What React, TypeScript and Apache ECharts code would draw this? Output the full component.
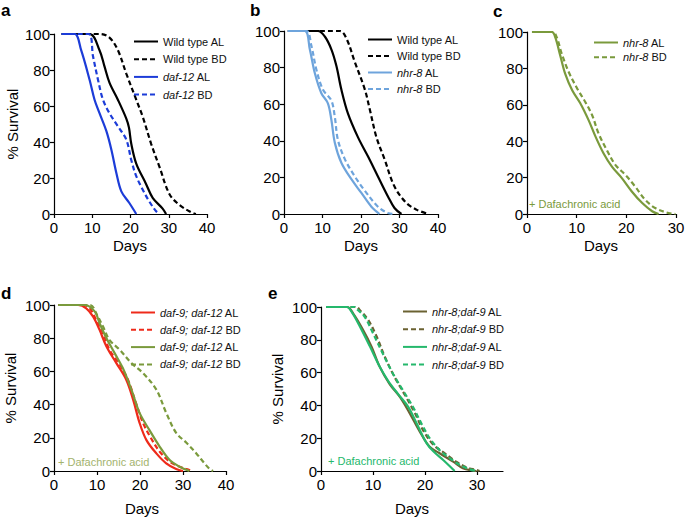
import React, { useEffect, useRef } from 'react';
import * as echarts from 'echarts';

const FONT = '"Liberation Sans", Arial, Helvetica, sans-serif';

type Pt = [number, number];

// ---------- Panel a ----------
const aWildTypeAL: Pt[] = [[2, 100], [9.3, 100], [11.9, 91], [13.2, 82], [14.5, 73], [16.7, 63.5], [18.9, 53], [19.6, 48], [20.2, 39], [21.5, 28], [24, 17], [25.8, 9], [28.4, 3], [29.3, 0]];
const aWildTypeBD: Pt[] = [[2, 100], [12, 100], [14.5, 98], [16.7, 91], [18.9, 78], [21.5, 63.5], [23.2, 54], [25.4, 39], [27.6, 26], [30.2, 11], [32.8, 5], [35.8, 1], [37.1, 0]];
const aDaf12AL: Pt[] = [[2, 100], [5.4, 100], [7.1, 91], [9.3, 74.6], [10.6, 63.5], [11.9, 56], [13.7, 46], [15, 35.7], [16.3, 22.8], [17.6, 12.6], [19.7, 6.1], [21.5, 0]];
const aDaf12BD: Pt[] = [[2, 100], [9, 100], [10.2, 87.6], [11.5, 74.6], [12.8, 63.5], [14.5, 56], [16.7, 48.7], [18.9, 41.3], [20.2, 30], [21.5, 21], [23.2, 13.5], [24.9, 7], [26.7, 1.5], [27.6, 0]];

// ---------- Panel b ----------
const bWildTypeAL: Pt[] = [[1, 100], [8.8, 100], [10.6, 97], [12.3, 90], [13.6, 81], [14.9, 68], [16.6, 55], [19.2, 42], [21.8, 31.5], [24.4, 20.5], [27, 9.6], [28.7, 3.3], [30.5, 0]];
const bWildTypeBD: Pt[] = [[1, 100], [14.5, 100], [16.2, 96], [18.4, 83], [21, 68], [22.3, 57], [24, 42], [26.1, 30], [28.7, 15], [31.8, 6], [34.4, 2.4], [37.4, 0]];
const bNhr8AL: Pt[] = [[1, 100], [5.4, 100], [6.7, 90], [8, 77], [9.7, 66], [11.4, 60.5], [12.3, 51.5], [13.2, 39], [14.9, 28], [17.5, 19], [20.1, 11.5], [22.7, 4], [24.8, 0]];
const bNhr8BD: Pt[] = [[1, 100], [5.8, 100], [7.1, 92], [8.4, 79], [10.1, 68], [12.3, 62], [13.2, 53], [14, 40.5], [15.8, 30], [18.4, 20.5], [20.9, 13], [24.4, 4], [27, 0.5], [28.7, 0]];

// ---------- Panel c ----------
const cNhr8AL: Pt[] = [[1, 100], [5, 100], [5.7, 97], [6.7, 87], [7.7, 77], [9.1, 68], [10.7, 61], [12.4, 51.6], [13.8, 42.5], [15.4, 33.4], [17.1, 26], [19.1, 19.7], [21.1, 12.4], [23.2, 6], [25.2, 1.5], [26.5, 0]];
const cNhr8BD: Pt[] = [[1, 100], [5.2, 100], [6, 97], [7, 88], [8.4, 78], [10.1, 69], [11.7, 61.7], [13.1, 54.4], [14.4, 44.3], [16.1, 35], [17.8, 27], [19.8, 21.5], [21.8, 15], [23.8, 7.8], [25.8, 3.3], [28.5, 0.5], [29.9, 0]];

// ---------- Panel d ----------
const dRedAL: Pt[] = [[1, 100], [5.6, 100], [7.5, 98], [9.1, 93], [10.6, 85], [12.2, 75], [14.5, 65], [16.8, 55], [18.4, 43], [19.9, 29], [21.5, 18.6], [23.8, 10.6], [26.1, 4.6], [28.4, 1.2], [30, 0]];
const dRedBD: Pt[] = [[1, 100], [6.5, 100], [8.3, 98], [9.8, 91], [11.4, 83], [12.9, 73], [15.3, 64], [17.2, 55], [18.8, 43], [20.7, 29], [22.6, 19.6], [24.6, 11.6], [26.9, 5.6], [29.2, 2.6], [31.5, 0.6], [32.3, 0]];
const dGreenAL: Pt[] = [[1, 100], [7.1, 100], [9.5, 96], [10.6, 89], [12.2, 80], [14.1, 71], [16, 62], [18, 49], [19.9, 35], [22.2, 24.6], [24.6, 14.6], [26.9, 6.6], [29.2, 2.6], [31.5, 0]];
const dGreenBD: Pt[] = [[1, 100], [8.3, 100], [10.2, 93], [11.4, 87], [12.9, 79], [15.3, 73], [18, 65], [20.7, 59], [23.8, 49], [26.1, 35], [28.4, 23], [30.8, 17], [33.1, 10.6], [35, 4.6], [36.2, 1.2], [37, 0]];

// ---------- Panel e ----------
const eOliveAL: Pt[] = [[1, 100], [5, 100], [6.2, 96], [8.1, 86], [9.7, 76], [11.3, 63.5], [13.2, 53], [15.2, 45], [17.1, 35], [19, 24], [20.9, 14.8], [22.8, 10.8], [25.4, 5.7], [27.3, 1.6], [28.6, 0.6], [29.9, 0]];
const eOliveBD: Pt[] = [[1, 100], [6.8, 100], [7.5, 98], [9.1, 92], [10.7, 82], [12.3, 69.5], [14.2, 57], [16.2, 46], [18.1, 35], [19.6, 25], [21.6, 16], [23.8, 10.8], [26, 5.7], [28, 2.2], [29.9, 0.6], [30.5, 0]];
const eGreenAL: Pt[] = [[1, 100], [5, 100], [5.9, 97], [7.5, 88], [9.4, 76], [11.3, 63.5], [12.9, 55], [14.8, 47], [16.8, 39], [18.4, 29], [20.3, 17], [21.6, 12], [23.5, 6.7], [25.7, 0]];
const eGreenBD: Pt[] = [[1, 100], [6.5, 100], [6.8, 99], [8.4, 94], [10, 84], [11.9, 71.5], [13.9, 59], [15.8, 49], [17.7, 39], [19.3, 29], [20.9, 20], [22.8, 12.8], [24.8, 7.7], [26.7, 3.7], [28.6, 1], [29.9, 0]];

// Axis ticks
const yTicks = { min: 0, max: 100, interval: 20 };
const xMaxByPanel = [40, 40, 30, 40, 35];
const eXTicks = [0, 10, 20, 30];

const BLACK = '#000000';
const BLUE = '#1c3cd8';
const LIGHTBLUE = '#6ea4dc';
const OLIVE = '#7a9a3c';
const RED = '#ee2a1a';
const DARKOLIVE = '#6b6232';
const GREEN = '#25b86c';

type SeriesDef = { panel: number; it: string; rest: string; color: string; dashed: boolean; data: Pt[] };

const seriesDefs: SeriesDef[] = [
  { panel: 0, it: '', rest: 'Wild type AL', color: BLACK, dashed: false, data: aWildTypeAL },
  { panel: 0, it: '', rest: 'Wild type BD', color: BLACK, dashed: true, data: aWildTypeBD },
  { panel: 0, it: 'daf-12', rest: ' AL', color: BLUE, dashed: false, data: aDaf12AL },
  { panel: 0, it: 'daf-12', rest: ' BD', color: BLUE, dashed: true, data: aDaf12BD },
  { panel: 1, it: '', rest: 'Wild type AL', color: BLACK, dashed: false, data: bWildTypeAL },
  { panel: 1, it: '', rest: 'Wild type BD', color: BLACK, dashed: true, data: bWildTypeBD },
  { panel: 1, it: 'nhr-8', rest: ' AL', color: LIGHTBLUE, dashed: false, data: bNhr8AL },
  { panel: 1, it: 'nhr-8', rest: ' BD', color: LIGHTBLUE, dashed: true, data: bNhr8BD },
  { panel: 2, it: 'nhr-8', rest: ' AL', color: OLIVE, dashed: false, data: cNhr8AL },
  { panel: 2, it: 'nhr-8', rest: ' BD', color: OLIVE, dashed: true, data: cNhr8BD },
  { panel: 3, it: 'daf-9; daf-12', rest: ' AL', color: RED, dashed: false, data: dRedAL },
  { panel: 3, it: 'daf-9; daf-12', rest: ' BD', color: RED, dashed: true, data: dRedBD },
  { panel: 3, it: 'daf-9; daf-12', rest: ' AL', color: OLIVE, dashed: false, data: dGreenAL },
  { panel: 3, it: 'daf-9; daf-12', rest: ' BD', color: OLIVE, dashed: true, data: dGreenBD },
  { panel: 4, it: 'nhr-8;daf-9', rest: ' AL', color: DARKOLIVE, dashed: false, data: eOliveAL },
  { panel: 4, it: 'nhr-8;daf-9', rest: ' BD', color: DARKOLIVE, dashed: true, data: eOliveBD },
  { panel: 4, it: 'nhr-8;daf-9', rest: ' AL', color: GREEN, dashed: false, data: eGreenAL },
  { panel: 4, it: 'nhr-8;daf-9', rest: ' BD', color: GREEN, dashed: true, data: eGreenBD },
];

const grids = [
  { left: 54, top: 34, width: 153, height: 180 },
  { left: 284, top: 31, width: 154, height: 183 },
  { left: 527, top: 32, width: 149, height: 182 },
  { left: 54, top: 305, width: 172, height: 166 },
  { left: 321, top: 307, width: 182, height: 164 },
];

const legends = [
  { left: 133, top: 36, itemGap: 6.7 },
  { left: 367, top: 34, itemGap: 5.5 },
  { left: 593, top: 37, itemGap: 3.7 },
  { left: 130, top: 307, itemGap: 6.3 },
  { left: 402, top: 306, itemGap: 6.7 },
];

export default function App() {
  const ref = useRef<HTMLDivElement>(null);
  useEffect(() => {
    if (!ref.current) return;
    const chart = echarts.init(ref.current, undefined, { renderer: 'svg' });
    const names = seriesDefs.map((_, i) => 's' + i);
    const labelMap: Record<string, SeriesDef> = {};
    seriesDefs.forEach((s, i) => (labelMap[names[i]] = s));

    const axisLine = { lineStyle: { color: '#000', width: 1.2 } };
    const axisTick = { length: 4, lineStyle: { color: '#000', width: 1.2 } };
    const axisLabel = { fontSize: 15, color: '#000', fontFamily: FONT };

    const xAxis = grids.map((_, i) => {
      const ax: any = {
        type: 'value', gridIndex: i, min: 0, max: xMaxByPanel[i], interval: 10,
        axisLine, axisTick: { ...axisTick }, axisLabel: { ...axisLabel, margin: 6 },
        splitLine: { show: false },
      };
      if (i === 4) {
        ax.axisTick.customValues = eXTicks;
        ax.axisLabel.customValues = eXTicks;
      }
      return ax;
    });
    const yAxis = grids.map((_, i) => ({
      type: 'value', gridIndex: i, ...yTicks,
      axisLine: { show: true, ...axisLine }, axisTick: { show: true, ...axisTick },
      axisLabel: { ...axisLabel, margin: 4 }, splitLine: { show: false },
    }));

    const series = seriesDefs.map((s, i) => ({
      type: 'line', name: names[i], xAxisIndex: s.panel, yAxisIndex: s.panel,
      data: s.data, showSymbol: false, symbol: 'none', smooth: 0.35,
      lineStyle: { color: s.color, width: 2.2, type: s.dashed ? [5, 3] : 'solid' },
      itemStyle: { color: s.color }, silent: true,
    }));

    const richBase = { fontSize: 11, fontFamily: FONT, color: '#111' };
    const legend = legends.map((l, p) => ({
      show: true, orient: 'vertical', left: l.left, top: l.top, itemGap: l.itemGap,
      itemWidth: 24, itemHeight: 12, padding: 0, selectedMode: false,
      itemStyle: { color: 'transparent', borderColor: 'transparent', borderWidth: 0, opacity: 0 },
      data: names.filter((n) => labelMap[n].panel === p),
      formatter: (n: string) => {
        const d = labelMap[n];
        return d.it ? `{i|${d.it}}{n|${d.rest}}` : `{n|${d.rest}}`;
      },
      textStyle: { ...richBase, rich: { i: { ...richBase, fontStyle: 'italic' }, n: { ...richBase } } },
    }));

    const txt = (x: number, y: number, text: string, font: string, fill = '#000', align = 'left', rotation = 0) => ({
      type: 'text', x, y, rotation, silent: true,
      style: { text, font, fill, align, verticalAlign: 'middle' },
    });
    const letterFont = `bold 17px ${FONT}`;
    const titleFont = `15px ${FONT}`;
    const smallFont = `11px ${FONT}`;
    const graphic = [
      txt(1, 10, 'a', letterFont), txt(250, 10, 'b', letterFont), txt(493, 11, 'c', letterFont),
      txt(1, 293, 'd', letterFont), txt(268, 293, 'e', letterFont),
      txt(12, 124, '% Survival', titleFont, '#000', 'center', Math.PI / 2),
      txt(10, 388, '% Survival', titleFont, '#000', 'center', Math.PI / 2),
      txt(277, 389, '% Survival', titleFont, '#000', 'center', Math.PI / 2),
      txt(130, 245, 'Days', titleFont, '#000', 'center'),
      txt(361, 245, 'Days', titleFont, '#000', 'center'),
      txt(601, 245, 'Days', titleFont, '#000', 'center'),
      txt(142, 508, 'Days', titleFont, '#000', 'center'),
      txt(412, 508, 'Days', titleFont, '#000', 'center'),
      txt(529, 204, '+ Dafachronic acid', smallFont, OLIVE),
      txt(58, 462, '+ Dafachronic acid', smallFont, '#a3b36e'),
      txt(328, 461, '+ Dafachronic acid', smallFont, GREEN),
    ];

    chart.setOption({
      animation: false,
      backgroundColor: '#ffffff',
      textStyle: { fontFamily: FONT },
      grid: grids.map((g) => ({ ...g, containLabel: false, outerBoundsMode: 'none' })),
      xAxis, yAxis, series, legend, graphic,
    } as any);
    return () => chart.dispose();
  }, []);
  return <div ref={ref} style={{ position: 'fixed', left: 0, top: 0, width: 685, height: 518, background: '#fff' }} />;
}
